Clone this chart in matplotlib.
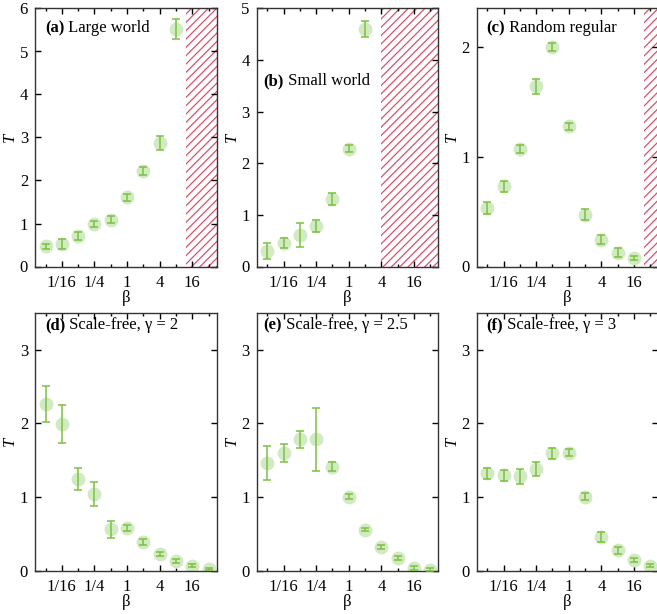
import numpy as np
from matplotlib import pyplot as plt
from matplotlib.ticker import NullFormatter, FixedLocator

plt.rcParams['font.family'] = ['Liberation Serif', 'DejaVu Serif']
plt.rcParams['font.size'] = 12
plt.rcParams['hatch.linewidth'] = 0.9

beta = [2.0 ** k for k in range(-5, 6)]

# (a) large world
T_a = [0.47, 0.53, 0.71, 0.98, 1.09, 1.61, 2.22, 2.87, 5.52]
E_a = [0.06, 0.12, 0.09, 0.07, 0.08, 0.08, 0.09, 0.17, 0.23]
# (b) small world
T_b = [0.31, 0.45, 0.61, 0.79, 1.31, 2.28, 4.61]
E_b = [0.155, 0.10, 0.24, 0.12, 0.12, 0.065, 0.155]
# (c) random regular
T_c = [0.53, 0.73, 1.07, 1.64, 2.00, 1.276, 0.47, 0.244, 0.124, 0.08]
E_c = [0.056, 0.05, 0.04, 0.066, 0.04, 0.03, 0.05, 0.04, 0.04, 0.02]
# (d) scale-free gamma=2
T_d = [2.26, 1.99, 1.245, 1.04, 0.56, 0.58, 0.39, 0.23, 0.135, 0.065, 0.025]
E_d = [0.24, 0.26, 0.15, 0.16, 0.12, 0.035, 0.036, 0.03, 0.03, 0.02, 0.01]
# (e) scale-free gamma=2.5
T_e = [1.46, 1.60, 1.78, 1.78, 1.41, 1.006, 0.555, 0.325, 0.176, 0.036, 0.015]
E_e = [0.23, 0.12, 0.11, 0.43, 0.06, 0.03, 0.02, 0.03, 0.03, 0.03, 0.02]
# (f) scale-free gamma=3
T_f = [1.32, 1.295, 1.28, 1.375, 1.59, 1.60, 1.006, 0.455, 0.275, 0.15, 0.068]
E_f = [0.077, 0.075, 0.105, 0.097, 0.08, 0.05, 0.045, 0.068, 0.05, 0.027, 0.018]

panels = [
    ('(a)', 'Large world', T_a, E_a, 6, 12),
    ('(b)', 'Small world', T_b, E_b, 5, 4),
    ('(c)', 'Random regular', T_c, E_c, 2.35, 24),
    ('(d)', 'Scale-free, γ = 2', T_d, E_d, 3.5, None),
    ('(e)', 'Scale-free, γ = 2.5', T_e, E_e, 3.5, None),
    ('(f)', 'Scale-free, γ = 3', T_f, E_f, 3.5, None),
]
label_pos = [(10, 19.5), (6.6, 73), (10, 19.5), (10, 12.3), (6.6, 12.3), (10, 12.3)]

W, H = 657, 614
fig = plt.figure(figsize=(W / 100, H / 100), dpi=100)
lefts = [35, 256.7, 476.7]
tops = [8.5, 312.7]
aw, ah = 181.7, 258

xmin, xmax = 0.02, 45
major = [1/16, 1/4, 1, 4, 16]
minor = [1/32, 1/8, 1/2, 2, 8, 32]

for i, (tag, name, T, E, ymax, hatch_from) in enumerate(panels):
    r, c = divmod(i, 3)
    ax = fig.add_axes([lefts[c] / W, (H - tops[r] - ah) / H, aw / W, ah / H])
    x = beta[:len(T)]
    ax.plot(x, T, 'o', ms=10, color='#d2eac2', mec='none', zorder=2)
    ax.errorbar(x, T, yerr=E, fmt='none', ecolor='#7cc142', elinewidth=1.1,
                capsize=3, capthick=1.1, zorder=3)
    if hatch_from is not None:
        ax.axvspan(hatch_from, xmax, facecolor='none', edgecolor='#d9506e',
                   hatch='////', linewidth=0, zorder=1)
    ax.set_xscale('log', base=2)
    ax.set_xlim(xmin, xmax)
    ax.set_ylim(0, ymax)
    ax.xaxis.set_major_locator(FixedLocator(major))
    ax.set_xticklabels(['1/16', '1/4', '1', '4', '16'])
    ax.xaxis.set_minor_locator(FixedLocator(minor))
    ax.xaxis.set_minor_formatter(NullFormatter())
    ax.yaxis.set_major_locator(FixedLocator(list(range(0, int(ymax) + 1))))
    ax.tick_params(which='both', direction='in', top=True, right=True, width=1,
                   labelsize=12)
    ax.tick_params(which='major', length=4)
    ax.tick_params(which='minor', length=2.5)
    ax.tick_params(axis='x', pad=6)
    ax.tick_params(axis='y', pad=5)
    for s in ax.spines.values():
        s.set_linewidth(1)
        s.set_color('#333333')
    ax.set_xlabel('β', va='center')
    ax.xaxis.set_label_coords(0.5, -31 / ah)
    ax.set_ylabel('T', fontstyle='italic', va='center')
    ax.yaxis.set_label_coords(-25 / aw, 0.5)
    dx, dy = label_pos[i]
    t1 = ax.annotate(tag, xy=(0, 1), xycoords='axes fraction',
                     xytext=(dx * 0.72, -dy * 0.72), textcoords='offset points',
                     fontweight='bold', va='center', ha='left')
    ax.annotate(' ' + name, xy=(1, 0.5), xycoords=t1, va='center', ha='left')

fig.savefig('out.png', dpi=100)
